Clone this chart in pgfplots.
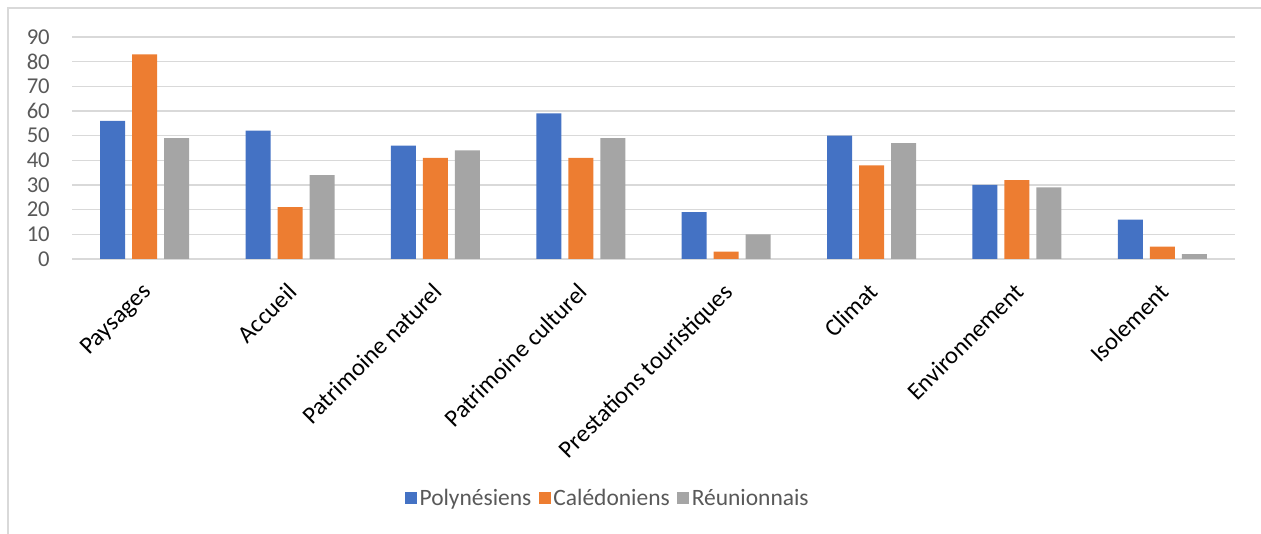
\documentclass[border=0pt]{standalone}
\usepackage{pgfplots}
\pgfplotsset{compat=1.18}
\usepackage{fontspec}
\setmainfont{Carlito}
\definecolor{cBlue}{HTML}{4472C4}
\definecolor{cOrange}{HTML}{ED7D31}
\definecolor{cGray}{HTML}{A5A5A5}
\definecolor{cGrid}{HTML}{D9D9D9}
\definecolor{cText}{HTML}{595959}
\begin{document}
\begin{tikzpicture}
\useasboundingbox (0,0) rectangle (945.75pt,400.5pt);
\draw[cGrid, line width=1.2pt] (6pt,0) -- (6pt,394.5pt) -- (945.75pt,394.5pt);
\begin{axis}[
  at={(54pt,206.25pt)}, anchor=south west,
  scale only axis, width=872.25pt, height=166.5pt,
  ybar=5.25pt, bar width=18.75pt,
  xmin=-0.5, xmax=7.5, ymin=0, ymax=90,
  xtick={0,...,7},
  xticklabels={Paysages,Accueil,Patrimoine naturel,Patrimoine culturel,Prestations touristiques,Climat,Environnement,Isolement},
  ytick={0,10,...,90},
  major tick length=0pt,
  axis line style={draw=none},
  ymajorgrids, grid style={cGrid, line width=1.2pt},
  yticklabel style={text=cText, font=\fontsize{17}{19}\selectfont, anchor=east, inner sep=0pt, xshift=-16.5pt},
  xticklabel style={text=black, font=\fontsize{18.3}{20}\selectfont, xshift=-3pt, yshift=-17pt, rotate=45, anchor=north east, inner sep=0pt},
  /pgf/number format/assume math mode=true,
  legend style={at={(0.461,-1.077)}, anchor=center, draw=none, legend columns=3,
    font=\fontsize{17.6}{20}\selectfont, text=cText,
    /tikz/every even column/.append style={column sep=3.5pt}},
  legend image code/.code={\fill[#1] (-2.5pt,-4.5pt) rectangle (6.5pt,4.5pt);},
]
\addplot[fill=cBlue, draw=none] coordinates {(0,56) (1,52) (2,46) (3,59) (4,19) (5,50) (6,30) (7,16)};
\addplot[fill=cOrange, draw=none] coordinates {(0,83) (1,21) (2,41) (3,41) (4,3) (5,38) (6,32) (7,5)};
\addplot[fill=cGray, draw=none] coordinates {(0,49) (1,34) (2,44) (3,49) (4,10) (5,47) (6,29) (7,2)};
\legend{Polynésiens,Calédoniens,Réunionnais}
\end{axis}
\end{tikzpicture}
\end{document}
